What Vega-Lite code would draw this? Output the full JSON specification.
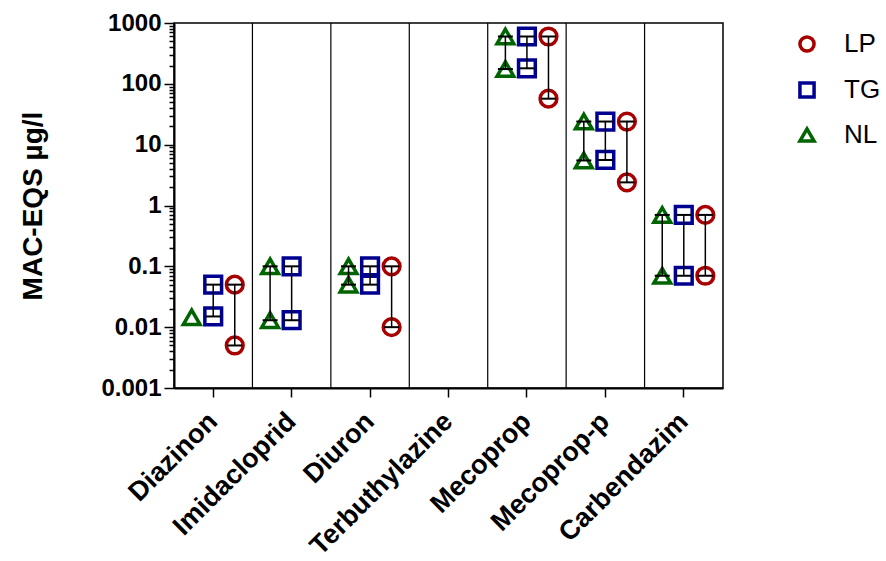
{
  "$schema": "https://vega.github.io/schema/vega-lite/v6.json",
  "width": 549,
  "height": 365,
  "autosize": {"type": "none"},
  "padding": {"left": 174, "top": 23, "right": 163, "bottom": 173},
  "background": "white",
  "config": {
    "font": "Liberation Sans",
    "view": {"stroke": "black", "strokeWidth": 1.5},
    "axis": {"grid": false, "domainColor": "black", "domainWidth": 2, "tickColor": "black", "tickWidth": 1.5, "labelColor": "black", "titleColor": "black"}
  },
  "datasets": {
    "obs": [
      {"compound": "Diazinon", "site": "NL", "value": 0.0145},
      {"compound": "Diazinon", "site": "TG", "value": 0.05},
      {"compound": "Diazinon", "site": "TG", "value": 0.015},
      {"compound": "Diazinon", "site": "LP", "value": 0.05},
      {"compound": "Diazinon", "site": "LP", "value": 0.005},
      {"compound": "Imidacloprid", "site": "NL", "value": 0.1},
      {"compound": "Imidacloprid", "site": "NL", "value": 0.013},
      {"compound": "Imidacloprid", "site": "TG", "value": 0.1},
      {"compound": "Imidacloprid", "site": "TG", "value": 0.013},
      {"compound": "Diuron", "site": "NL", "value": 0.1},
      {"compound": "Diuron", "site": "NL", "value": 0.05},
      {"compound": "Diuron", "site": "TG", "value": 0.1},
      {"compound": "Diuron", "site": "TG", "value": 0.05},
      {"compound": "Diuron", "site": "LP", "value": 0.1},
      {"compound": "Diuron", "site": "LP", "value": 0.01},
      {"compound": "Mecoprop", "site": "NL", "value": 600},
      {"compound": "Mecoprop", "site": "NL", "value": 175},
      {"compound": "Mecoprop", "site": "TG", "value": 600},
      {"compound": "Mecoprop", "site": "TG", "value": 180},
      {"compound": "Mecoprop", "site": "LP", "value": 600},
      {"compound": "Mecoprop", "site": "LP", "value": 57},
      {"compound": "Mecoprop-p", "site": "NL", "value": 24},
      {"compound": "Mecoprop-p", "site": "NL", "value": 5.5},
      {"compound": "Mecoprop-p", "site": "TG", "value": 24},
      {"compound": "Mecoprop-p", "site": "TG", "value": 5.6},
      {"compound": "Mecoprop-p", "site": "LP", "value": 24},
      {"compound": "Mecoprop-p", "site": "LP", "value": 2.4},
      {"compound": "Carbendazim", "site": "NL", "value": 0.7},
      {"compound": "Carbendazim", "site": "NL", "value": 0.07},
      {"compound": "Carbendazim", "site": "TG", "value": 0.7},
      {"compound": "Carbendazim", "site": "TG", "value": 0.07},
      {"compound": "Carbendazim", "site": "LP", "value": 0.7},
      {"compound": "Carbendazim", "site": "LP", "value": 0.07}
    ],
    "compounds": [
      {"compound": "Diazinon"},
      {"compound": "Imidacloprid"},
      {"compound": "Diuron"},
      {"compound": "Terbuthylazine"},
      {"compound": "Mecoprop"},
      {"compound": "Mecoprop-p"},
      {"compound": "Carbendazim"}
    ]
  },
  "encoding": {
    "x": {
      "field": "compound",
      "type": "nominal",
      "scale": {"domain": ["Diazinon", "Imidacloprid", "Diuron", "Terbuthylazine", "Mecoprop", "Mecoprop-p", "Carbendazim"], "paddingInner": 0, "paddingOuter": 0},
      "axis": {"title": null, "labelAngle": -45, "labelAlign": "right", "labelBaseline": "middle", "labelFontSize": 27, "labelFontWeight": "bold", "tickSize": 9, "labelPadding": 20, "labelLimit": 0}
    },
    "y": {
      "field": "value",
      "type": "quantitative",
      "scale": {"type": "log", "domain": [0.001, 1000], "nice": false},
      "axis": {
        "title": "MAC-EQS µg/l",
        "titleFontSize": 28,
        "titleFontWeight": "bold",
        "titlePadding": 53,
        "labelFontSize": 24,
        "labelFontWeight": "bold",
        "labelPadding": 3,
        "values": [0.001,0.002,0.003,0.004,0.005,0.006,0.007,0.008,0.009,0.01,0.02,0.03,0.04,0.05,0.06,0.07,0.08,0.09,0.1,0.2,0.3,0.4,0.5,0.6,0.7,0.8,0.9,1,2,3,4,5,6,7,8,9,10,20,30,40,50,60,70,80,90,100,200,300,400,500,600,700,800,900,1000],
        "labelExpr": "indexof([0.001,0.01,0.1,1,10,100,1000], datum.value) >= 0 ? format(datum.value, '~g') : ''",
        "tickSize": {"condition": {"test": "indexof([0.001,0.01,0.1,1,10,100,1000], datum.value) >= 0", "value": 10}, "value": 5},
        "labelOverlap": false
      }
    }
  },
  "layer": [
    {
      "data": {"name": "compounds"},
      "transform": [{"filter": "datum.compound !== 'Diazinon'"}],
      "mark": {"type": "rule", "color": "black", "strokeWidth": 1.2},
      "encoding": {
        "x": {"field": "compound", "type": "nominal", "bandPosition": 0},
        "y": null
      }
    },
    {
      "data": {"name": "obs"},
      "mark": {"type": "point", "filled": false, "strokeWidth": 3.5, "size": 280, "opacity": 1},
      "encoding": {
        "xOffset": {"field": "site", "type": "nominal", "scale": {"type": "point", "domain": ["NL", "TG", "LP"], "padding": 0.82}},
        "color": {"field": "site", "type": "nominal", "scale": {"domain": ["LP", "TG", "NL"], "range": ["#A80000", "#000090", "#006400"]},
          "legend": {"title": null, "orient": "none", "legendX": 620, "legendY": 8, "labelFontSize": 26, "symbolSize": 200, "symbolStrokeWidth": 3.5, "rowPadding": 16, "labelOffset": 24, "labelColor": "black"}},
        "shape": {"field": "site", "type": "nominal", "scale": {"domain": ["LP", "TG", "NL"], "range": ["circle", "square", "triangle-up"]}}
      }
    },
    {
      "data": {"name": "obs"},
      "mark": {"type": "rule", "color": "black", "strokeWidth": 1.5},
      "encoding": {
        "xOffset": {"field": "site", "type": "nominal"},
        "y": {"field": "value", "type": "quantitative", "aggregate": "min"},
        "y2": {"field": "value", "aggregate": "max"}
      }
    },
    {
      "data": {"name": "obs"},
      "transform": [
        {"joinaggregate": [{"op": "count", "as": "n"}], "groupby": ["compound", "site"]},
        {"filter": "datum.n > 1"}
      ],
      "mark": {"type": "point", "shape": "M-1,0H1", "size": 225, "stroke": "black", "strokeWidth": 2, "filled": false, "opacity": 1},
      "encoding": {
        "xOffset": {"field": "site", "type": "nominal"}
      }
    }
  ]
}
